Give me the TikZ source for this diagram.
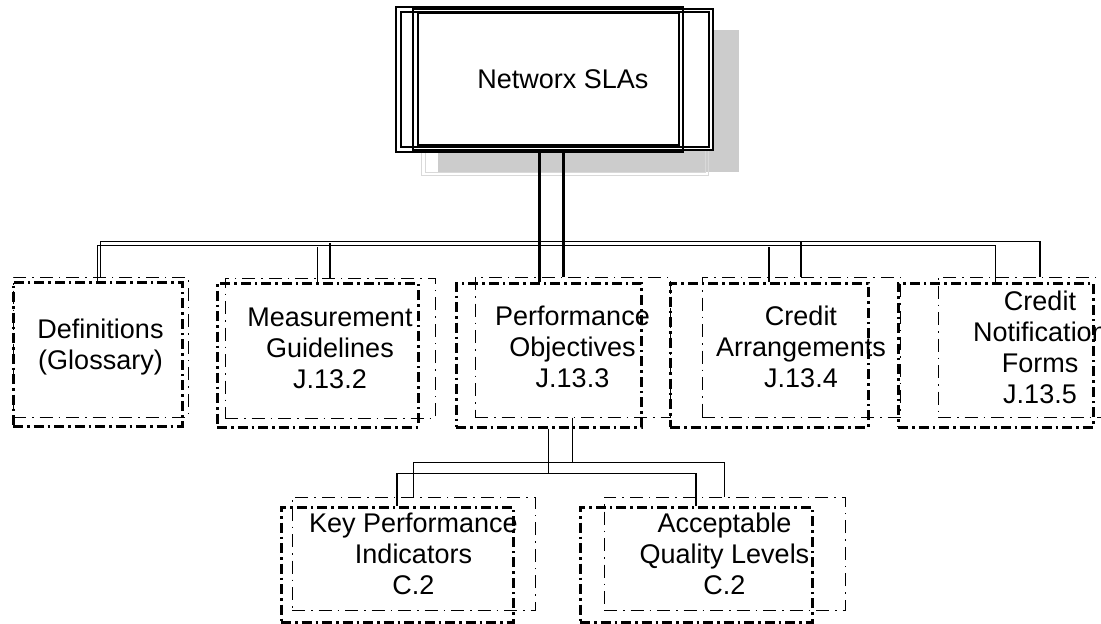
\documentclass[tikz,border=0pt]{standalone}
\usepackage{fontspec}
\setsansfont{Liberation Sans}
\usetikzlibrary{positioning}
\tikzset{
  basic/.style  = {rectangle, inner sep=0pt, font=\sffamily\fontsize{27}{31}\selectfont},
  root/.style   = {basic, draw, line width=1.4pt, align=center},
  rootline/.style = {basic, draw, line width=1.2pt},
  topic/.style  = {basic, draw, line width=1pt, align=center,
                   dash pattern=on 13pt off 6pt on 1.5pt off 6pt},
  border/.style = {basic, draw, line width=3pt,
                   dash pattern=on 10pt off 4pt on 2.5pt off 4pt},
  link/.style   = {line width=1.3pt},
  trunk/.style  = {line width=3pt}
}

\begin{document}
\begin{tikzpicture}[x=1pt,y=-1pt]
\useasboundingbox (0,0) rectangle (1101,624);

% shadow and grey copies behind the root, then its white face
\fill[black!20] (438,30) rectangle (739,172);
\draw[black!15, line width=1pt] (421,20) rectangle (708,175);
\draw[black!15, line width=1pt] (425,25) rectangle (705,172);
\fill[white] (396,7) rectangle (683,152);
\fill[white] (413,9) rectangle (713,150);

\node[rootline, minimum width=287, minimum height=145] (rootf) at (539.5,79.5) {};
\node[rootline, minimum width=308, minimum height=135] (root2) at (555,79.5) {};
\node[rootline, minimum width=261, minimum height=132] (root3) at (548.5,79) {};
\node[root, minimum width=300, minimum height=141] (root) at (563,79.5) {Networx SLAs};

\node[border, minimum width=169, minimum height=144] (f1) at (97.5,354) {};
\node[border, minimum width=201, minimum height=144] (f2) at (317.5,355) {};
\node[border, minimum width=185, minimum height=144] (f3) at (548.5,355) {};
\node[border, minimum width=198, minimum height=144] (f4) at (769,355) {};
\node[border, minimum width=195, minimum height=144] (f5) at (995.5,355) {};
\node[border, minimum width=232, minimum height=115] (f31) at (397,564.5) {};
\node[border, minimum width=232, minimum height=115] (f32) at (696,564.5) {};

\node[topic, minimum width=175, minimum height=140] (c1) at (100.5,347) {Definitions\\(Glossary)};
\node[topic, minimum width=210, minimum height=140] (c2) at (330,348) {Measurement\\Guidelines\\J.13.2};
\node[topic, minimum width=195, minimum height=140] (c3) at (572.5,347) {Performance\\Objectives\\J.13.3};
\node[topic, minimum width=198, minimum height=140] (c4) at (801,347) {Credit\\Arrangements\\J.13.4};
\node[topic, minimum width=204, minimum height=140] (c5) at (1040,347) {Credit\\Notification\\Forms\\J.13.5};
\node[topic, minimum width=243, minimum height=113] (c31) at (413.5,553.5) {Key Performance\\Indicators\\C.2};
\node[topic, minimum width=241, minimum height=113] (c32) at (724.5,553.5) {Acceptable\\Quality Levels\\C.2};

\draw[trunk] (root.south) -- (root.south |- c3.north);
\draw[trunk] (rootf.south) -- (rootf.south |- f3.north);

\draw[link] (c1.north) -- ++(0,-35) -| (c5.north);
\foreach \value in {2,4}
  \draw[link] (c\value.north) -- ++(0,-35);
\draw[link] (f1.north) -- ++(0,-35) -| (f5.north);
\foreach \value in {2,4}
  \draw[link] (f\value.north) -- ++(0,-35);

\draw[link] (c3.south) -- ++(0,45) coordinate (c3b) -| (c31.north);
\draw[link] (c3b) -| (c32.north);
\draw[link] (f3.south) -- ++(0,45) coordinate (f3b) -| (f31.north);
\draw[link] (f3b) -| (f32.north);

\end{tikzpicture}
\end{document}
